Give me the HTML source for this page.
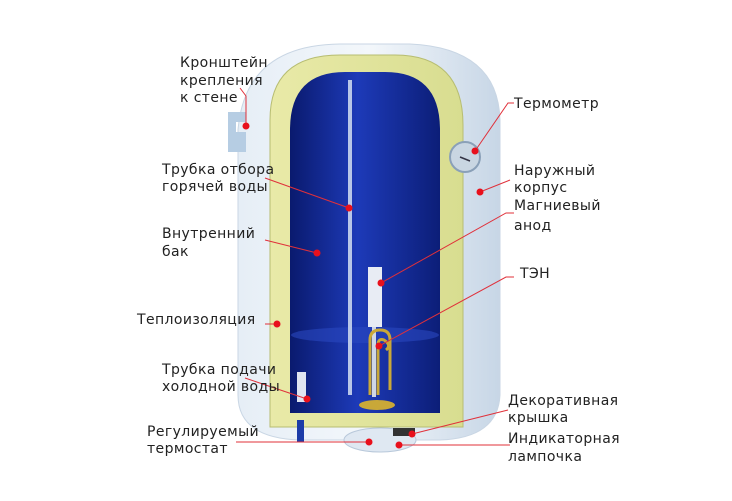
<!DOCTYPE html>
<html><head><meta charset="utf-8"><style>
html,body{margin:0;padding:0;background:#fff;}
svg{display:block}
text{font-family:"DejaVu Sans","Liberation Sans",sans-serif;font-size:14px;fill:#222;letter-spacing:0.4px;}
</style></head><body>
<svg width="732" height="501" viewBox="0 0 732 501" xmlns="http://www.w3.org/2000/svg">
<defs>
<linearGradient id="body" x1="0" x2="1" y1="0" y2="0">
<stop offset="0" stop-color="#e6eef6"/><stop offset="0.5" stop-color="#f3f7fb"/><stop offset="1" stop-color="#c7d6e6"/>
</linearGradient>
<linearGradient id="blue" x1="0" x2="1" y1="0" y2="0">
<stop offset="0" stop-color="#0a1a6e"/><stop offset="0.45" stop-color="#1d3ab8"/><stop offset="1" stop-color="#0c1e78"/>
</linearGradient>
<linearGradient id="yel" x1="0" x2="1"><stop offset="0" stop-color="#e9eaa8"/><stop offset="1" stop-color="#d8dd90"/></linearGradient>
</defs>
<rect width="732" height="501" fill="#fff"/>
<!-- outer body -->
<path d="M238 130 Q245 45 340 44 L410 44 Q498 48 500 120 L500 395 Q498 438 440 440 L300 440 Q238 438 238 395 Z" fill="url(#body)" stroke="#c9d6e4"/>
<!-- bracket -->
<path d="M228 112 L246 112 L246 122 L236 122 L236 132 L246 132 L246 152 L228 152 Z" fill="#b6cde3"/>
<!-- insulation -->
<path d="M270 120 Q270 55 340 55 L395 55 Q463 55 463 125 L463 427 L270 427 Z" fill="url(#yel)" stroke="#b7bd72"/>
<!-- inner tank -->
<path d="M290 130 Q290 72 345 72 L385 72 Q440 72 440 130 L440 413 L290 413 Z" fill="url(#blue)"/>
<ellipse cx="365" cy="335" rx="74" ry="8" fill="#2a48c0" opacity="0.6"/>
<!-- thermometer -->
<circle cx="465" cy="157" r="15" fill="#c9d6e2" stroke="#8aa0b8" stroke-width="2"/>
<line x1="460" y1="157" x2="470" y2="161" stroke="#334" stroke-width="1.5"/>
<!-- hot water rod -->
<rect x="348" y="80" width="4" height="315" fill="#b8c6e8"/>
<!-- anode -->
<rect x="368" y="267" width="14" height="60" fill="#e8ecf4"/>
<rect x="372" y="327" width="4" height="70" fill="#cfd6e6"/>
<!-- TEN -->
<path d="M370 395 L370 340 Q370 330 380 330 Q390 330 390 340 L390 390 M378 395 L378 345 Q378 338 384 340 Q392 345 386 350" fill="none" stroke="#c9a838" stroke-width="3"/>
<ellipse cx="377" cy="405" rx="18" ry="5" fill="#c9a838"/>
<!-- inlet -->
<rect x="297" y="372" width="9" height="30" fill="#dfe4f0"/>
<rect x="297" y="420" width="7" height="22" fill="#1c3ca8"/>
<!-- thermostat base -->
<ellipse cx="380" cy="440" rx="36" ry="12" fill="#dfe8f2" stroke="#b8c8da"/>
<rect x="393" y="428" width="22" height="8" fill="#333"/>
<!-- lines -->
<g stroke="#e0303a" stroke-width="1" fill="none">
<polyline points="240,88 246,96 246,126"/>
<line x1="265" y1="178" x2="349" y2="208"/>
<line x1="265" y1="240" x2="317" y2="253"/>
<line x1="265" y1="324" x2="277" y2="324"/>
<line x1="245" y1="378" x2="307" y2="399"/>
<line x1="236" y1="442" x2="369" y2="442"/>
<polyline points="475,151 508,103 514,103"/>
<line x1="480" y1="192" x2="510" y2="180"/>
<polyline points="381,283 506,213 514,213"/>
<polyline points="379,346 506,277 514,277"/>
<line x1="412" y1="434" x2="508" y2="410"/>
<line x1="399" y1="445" x2="510" y2="445"/>
</g>
<g fill="#e8101c">
<circle cx="246" cy="126" r="3.5"/><circle cx="349" cy="208" r="3.5"/><circle cx="317" cy="253" r="3.5"/>
<circle cx="277" cy="324" r="3.5"/><circle cx="307" cy="399" r="3.5"/><circle cx="369" cy="442" r="3.5"/>
<circle cx="475" cy="151" r="3.5"/><circle cx="480" cy="192" r="3.5"/><circle cx="381" cy="283" r="3.5"/>
<circle cx="379" cy="346" r="3.5"/><circle cx="412" cy="434" r="3.5"/><circle cx="399" cy="445" r="3.5"/>
</g>
<!-- labels -->
<text x="180" y="67">Кронштейн</text>
<text x="180" y="85">крепления</text>
<text x="180" y="102">к стене</text>
<text x="162" y="174">Трубка отбора</text>
<text x="162" y="191">горячей воды</text>
<text x="162" y="238">Внутренний</text>
<text x="162" y="256">бак</text>
<text x="137" y="324">Теплоизоляция</text>
<text x="162" y="374">Трубка подачи</text>
<text x="162" y="391">холодной воды</text>
<text x="147" y="436">Регулируемый</text>
<text x="147" y="453">термостат</text>
<text x="514" y="108">Термометр</text>
<text x="514" y="175">Наружный</text>
<text x="514" y="192">корпус</text>
<text x="514" y="210">Магниевый</text>
<text x="514" y="230">анод</text>
<text x="520" y="278">ТЭН</text>
<text x="508" y="405">Декоративная</text>
<text x="508" y="422">крышка</text>
<text x="508" y="443">Индикаторная</text>
<text x="508" y="461">лампочка</text>
</svg>
</body></html>
